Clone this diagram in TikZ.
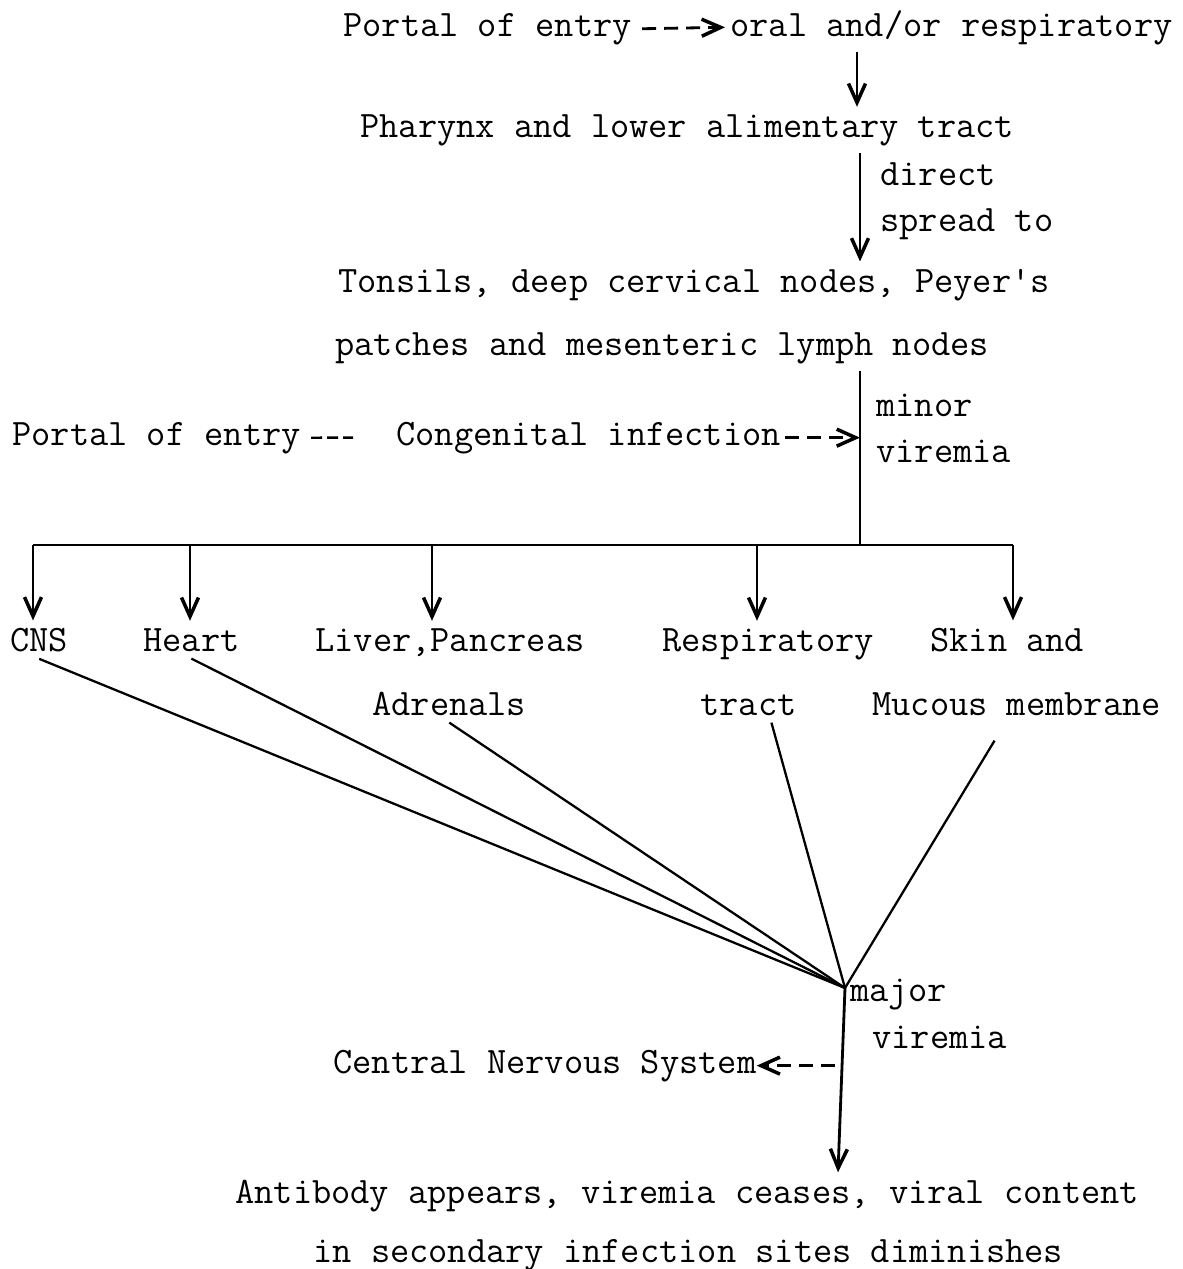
\documentclass[tikz,border=0pt]{standalone}
\usepackage{fontspec}
\usepackage{tikz}
\usetikzlibrary{arrows.meta}

\tikzset{
  lbl/.style={anchor=base west, inner xsep=0pt, inner ysep=4pt, font=\ttfamily\fontsize{21.25}{25}\selectfont},
  flow/.style={line width=1.6pt, -{Straight Barb[length=0.38cm,width=0.34cm,line width=2pt]}},
  dflow/.style={flow, dash pattern=on 0.28cm off 0.16cm},
  feed/.style={line width=1.3pt},
}

\begin{document}
\begin{tikzpicture}[x=0.02cm,y=-0.02cm]
\useasboundingbox (0,0) rectangle (1183,1269);
% route of entry
\node[lbl] (entry) at (343,36) {Portal of entry};
\node[lbl] (oral) at (730,36) {oral and/or respiratory};
\node[lbl] (pharynx) at (360,137) {Pharynx and lower alimentary tract};
\node[lbl] (direct) at (880,185) {direct};
\node[lbl] (spread) at (880,231) {spread to};
\node[lbl] (tonsils) at (338,292) {Tonsils, deep cervical nodes, Peyer's};
\node[lbl] (patches) at (335,355) {patches and mesenteric lymph nodes};
\node[lbl] (minor) at (876,416) {minor};
\node[lbl] (minorv) at (876,462) {viremia};
\node[lbl] (centry) at (12,445) {Portal of entry};
\node[lbl] (congen) at (396,445) {Congenital infection};
% target organs
\node[lbl] (cns) at (10,651) {CNS};
\node[lbl] (heart) at (143,651) {Heart};
\node[lbl] (liver) at (315,651) {Liver,Pancreas};
\node[lbl] (resp) at (662,651) {Respiratory};
\node[lbl] (skin) at (930,651) {Skin and};
\node[lbl] (adrenals) at (372,715) {Adrenals};
\node[lbl] (tract) at (700,715) {tract};
\node[lbl] (mucous) at (872,715) {Mucous membrane};
% major viremia
\node[lbl] (major) at (850,1001) {major};
\node[lbl] (majorv) at (872,1048) {viremia};
\node[lbl] (csys) at (333,1073) {Central Nervous System};
\node[lbl] (antibody) at (235,1203) {Antibody appears, viremia ceases, viral content};
\node[lbl] (sites) at (313,1262) {in secondary infection sites diminishes};

\coordinate (s1) at (857,0);
\coordinate (s2) at (860,0);
\coordinate (s3) at (838,0);
\coordinate (mv) at (845,988);

\draw[dflow] ([xshift=0.2cm]entry.east) -- ([xshift=-0.1cm]oral.west);
\draw[flow] (oral.south -| s1) -- (pharynx.north -| s1);
\draw[flow] (pharynx.south -| s2) -- (tonsils.north -| s2);

% branching bar
\foreach \n/\x in {cns/33,heart/190,liver/432,resp/757,skin/1013}{
  \coordinate (b-\n) at (\x,545);
  \draw[flow] (b-\n) -- (b-\n |- \n.north);
}
\draw[line width=0.9pt] (b-cns) -- (b-skin);
\draw[line width=1.6pt] (patches.south -| s2) -- (s2 |- b-cns);
\draw[line width=1.4pt, dash pattern=on 0.22cm off 0.1cm, shorten <=0.2cm, shorten >=0.86cm] (centry.east) -- (congen.west);
\draw[dflow] ([xshift=0.08cm]congen.east) -- (congen.east -| s2);

% towards major viremia
\draw[feed] (cns.south) -- (mv);
\draw[feed] (heart.south) -- (mv);
\draw[feed] (adrenals.south) -- (mv);
\draw[feed] ([xshift=0.46cm]tract.south) -- (mv);
\draw[feed] ([xshift=-0.44cm,yshift=-0.36cm]mucous.south) -- (mv);

\draw[flow] (mv) -- (antibody.north -| s3);
\draw[dflow] ([xshift=-0.06cm]s3 |- csys.east) -- (csys.east);
\end{tikzpicture}
\end{document}
